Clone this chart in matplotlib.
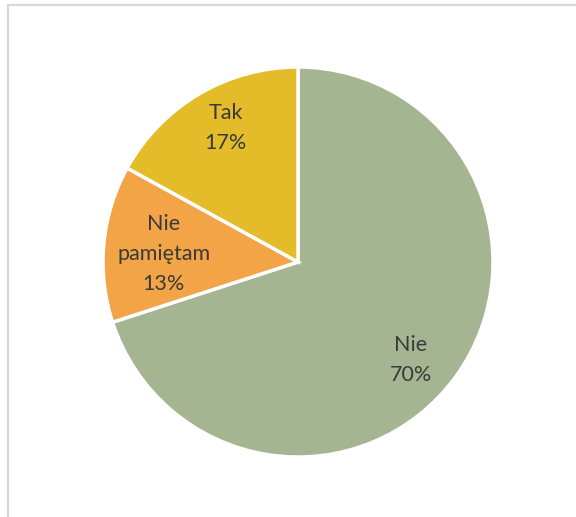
import numpy as np
import matplotlib
matplotlib.use("Agg")
import matplotlib.pyplot as plt
from matplotlib.patches import Rectangle

# data
labels = ["Nie", "Nie\npamiętam", "Tak"]
shares = [70, 13, 17]
colors = ["#A5B592", "#F3A447", "#E4BC2A"]

# label placement (radius fraction, angle nudge in degrees)
label_dist = [0.765, 0.69, 0.78]
label_nudge = [-5, 2, -2.3]

plt.rcParams["font.family"] = ["Lato", "DejaVu Sans"]

W, H = 576, 517
fig = plt.figure(figsize=(W / 100, H / 100), dpi=100)

# chart area border (runs off right/bottom like the original crop)
fig.patches.append(Rectangle((7.5 / W, -0.05), 1.2, 1 - 4.5 / H + 0.05,
                             transform=fig.transFigure, fill=False,
                             edgecolor="#D9D9D9", linewidth=1.6))

cx, cy, r = 298, 517 - 262, 195
ax = fig.add_axes([(cx - r) / W, (cy - r) / H, 2 * r / W, 2 * r / H])
wedges, _ = ax.pie(shares, colors=colors, startangle=90, counterclock=False,
                   radius=1.0, wedgeprops=dict(edgecolor="white", linewidth=2.5))

for w, lab, pct, d, nd in zip(wedges, labels, shares, label_dist, label_nudge):
    mid = np.deg2rad((w.theta1 + w.theta2) / 2 + nd)
    ax.text(d * np.cos(mid), d * np.sin(mid), f"{lab}\n{pct}%",
            ha="center", va="center", fontsize=15.5, color="#3A3A3A",
            linespacing=1.65)

ax.set_xlim(-1, 1)
ax.set_ylim(-1, 1)
ax.set_aspect("equal")
ax.axis("off")

fig.savefig("out.png", dpi=100)
